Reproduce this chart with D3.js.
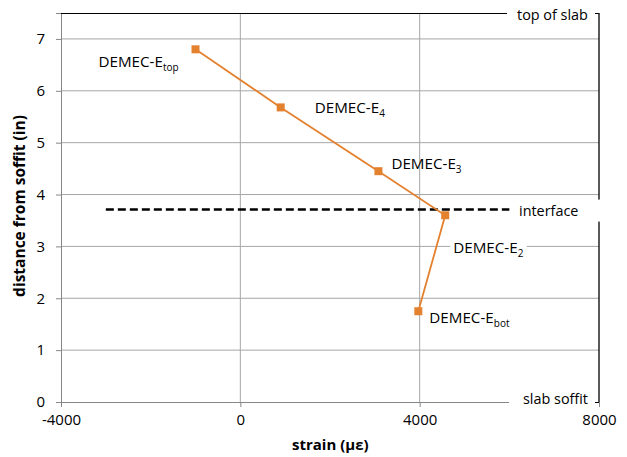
<!DOCTYPE html>
<html>
<head>
<meta charset="utf-8">
<script src="https://cdn.jsdelivr.net/npm/d3@7/dist/d3.min.js"></script>
<style>
  body { margin: 0; background: #fff; }
  text { font-family: "Open Sans", "Liberation Sans", sans-serif; fill: #000; }
</style>
</head>
<body>
<div id="chart"></div>
<script>
// data
var gauges = ["top", "4", "3", "2", "bot"];
var strain = [-1000, 900, 3080, 4570, 3970];      // microstrain
var depth  = [6.80, 5.68, 4.45, 3.60, 1.75];      // in from soffit
var interfaceX = [-3000, 6000];
var interfaceY = 3.71;
var xTicks = [-4000, 0, 4000, 8000];
var yTicks = [0, 1, 2, 3, 4, 5, 6, 7];

var W = 627, H = 457;
var margin = { top: 13, right: 28, bottom: 55, left: 61 };
var width = W - margin.left - margin.right;
var height = H - margin.top - margin.bottom;

var svg = d3.select("#chart").append("svg")
    .attr("width", W).attr("height", H);
var g = svg.append("g")
    .attr("transform", "translate(" + margin.left + "," + margin.top + ")");

var x = d3.scaleLinear().domain([-4000, 8000]).range([0, width]);
var y = d3.scaleLinear().domain([0, 7.5]).range([height, 0]);

var gridCol = "#a6a6a6";
var fs = "15.2px";

// gridlines
g.selectAll(".hgrid").data(yTicks.filter(function(d){ return d > 0; }))
  .enter().append("line")
  .attr("x1", 0).attr("x2", width)
  .attr("y1", function(d){ return y(d); }).attr("y2", function(d){ return y(d); })
  .style("stroke", gridCol).style("stroke-width", 1);
g.selectAll(".vgrid").data([0, 4000])
  .enter().append("line")
  .attr("x1", function(d){ return x(d); }).attr("x2", function(d){ return x(d); })
  .attr("y1", 0).attr("y2", height)
  .style("stroke", gridCol).style("stroke-width", 1);

// left axis
var yAxis = g.append("g")
  .call(d3.axisLeft(y).tickValues(yTicks).tickSize(5).tickPadding(11).tickFormat(function(d){ return String(d); }));
yAxis.select(".domain").style("stroke", "#868686");
yAxis.selectAll(".tick line").style("stroke", "#868686");
yAxis.selectAll("text").style("font-size", "15px").style("font-family", "'Open Sans', sans-serif");

// bottom axis
var xAxis = g.append("g")
  .attr("transform", "translate(0," + height + ")")
  .call(d3.axisBottom(x).tickValues(xTicks).tickSize(5).tickPadding(7).tickFormat(function(d){ return String(d); }));
xAxis.select(".domain").style("stroke", "#868686");
xAxis.selectAll(".tick line").style("stroke", "#868686");
xAxis.selectAll("text").style("font-size", "15px").style("font-family", "'Open Sans', sans-serif");

// top border and right axis
g.append("line").attr("x1", 0).attr("x2", width).attr("y1", 0.5).attr("y2", 0.5)
  .style("stroke", "#000").style("stroke-width", 1);
g.append("line").attr("x1", width).attr("x2", width).attr("y1", 0).attr("y2", height)
  .style("stroke", "#000").style("stroke-width", 1.3);
[0, 7.5].forEach(function(v) {
  g.append("line").attr("x1", width - 4).attr("x2", width)
    .attr("y1", y(v) + 0.5).attr("y2", y(v) + 0.5)
    .style("stroke", "#000");
});

// interface line
g.append("line")
  .attr("x1", x(interfaceX[0])).attr("x2", x(interfaceX[1]))
  .attr("y1", y(interfaceY)).attr("y2", y(interfaceY))
  .style("stroke", "#000").style("stroke-width", 2.5).style("stroke-dasharray", "8,4");

// boxed side labels (white background hides lines behind)
function boxLabel(txt, tx, ty, bx, bw) {
  g.append("rect").attr("x", bx).attr("y", ty - 11).attr("width", bw).attr("height", 22)
    .style("fill", "#fff");
  g.append("text").attr("x", tx).attr("y", ty).attr("dy", "0.35em")
    .style("font-size", "14.4px").text(txt);
}
boxLabel("top of slab", width - 82, y(7.5) + 2, width - 92, 88);
boxLabel("interface", width - 80, y(interfaceY) + 1, x(interfaceX[1]) + 1, 110);
boxLabel("slab soffit", width - 76, y(0) - 3, width - 90, 86);

// series line
var pts = strain.map(function(s, i){ return { x: s, y: depth[i], name: gauges[i] }; });
var orange = "#e3812f";
g.append("path").datum(pts)
  .attr("d", d3.line().x(function(d){ return x(d.x); }).y(function(d){ return y(d.y); }))
  .attr("fill", "none").attr("stroke", orange).attr("stroke-width", 1.8);
g.selectAll(".marker").data(pts).enter().append("rect")
  .attr("x", function(d){ return x(d.x) - 4; })
  .attr("y", function(d){ return y(d.y) - 4; })
  .attr("width", 8).attr("height", 8)
  .style("fill", orange);

// data labels
var labelOff = {
  top: [-97, 18, false],
  "4": [34, 6, false],
  "3": [13, -2, false],
  "2": [8, 38, true],
  bot: [11, 12, false]
};
pts.forEach(function(d) {
  var o = labelOff[d.name];
  var lx = x(d.x) + o[0], ly = y(d.y) + o[1];
  var t = g.append("text").attr("x", lx).attr("y", ly).style("font-size", fs);
  t.append("tspan").text("DEMEC-E");
  t.append("tspan").attr("dy", 4).style("font-size", "10px").text(d.name);
  if (o[2]) {
    var bb = t.node().getBBox();
    g.insert("rect", function(){ return t.node(); })
      .attr("x", bb.x - 3).attr("y", bb.y).attr("width", bb.width + 6).attr("height", bb.height)
      .style("fill", "#fff");
  }
});

// axis titles
svg.append("text")
  .attr("x", margin.left + x(0) + 90).attr("y", 450)
  .attr("text-anchor", "middle")
  .style("font-size", "15px").style("font-weight", "bold")
  .text("strain (\u03bc\u03b5)");
svg.append("text")
  .attr("transform", "translate(25,206) rotate(-90)")
  .attr("text-anchor", "middle")
  .style("font-size", "15.5px").style("font-weight", "bold")
  .text("distance from soffit (in)");
</script>
</body>
</html>
